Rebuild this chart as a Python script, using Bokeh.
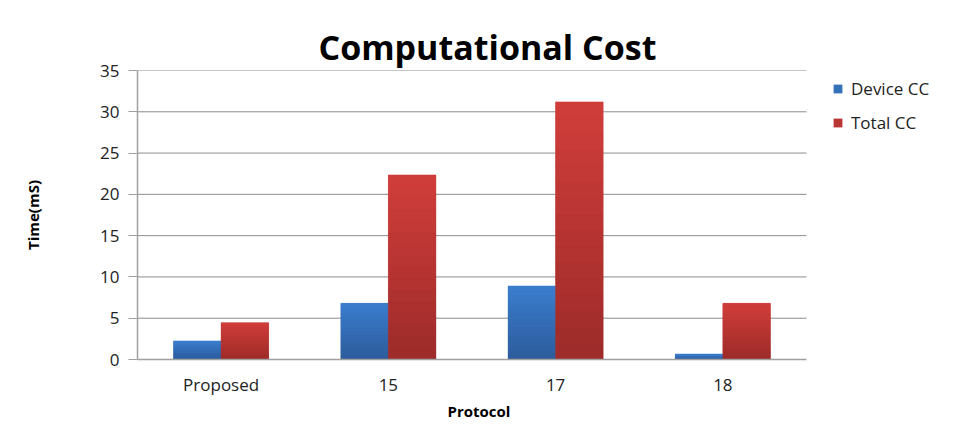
from bokeh.plotting import figure
from bokeh.models import ColumnDataSource, Legend, LegendItem, Range1d, FixedTicker, Title
from bokeh.embed import file_html
from bokeh.resources import INLINE

categories = ["Proposed", "15", "17", "18"]
device_cc = [2.25, 6.8, 8.9, 0.65]
total_cc = [4.45, 22.35, 31.2, 6.8]
y_ticks = [0, 5, 10, 15, 20, 25, 30, 35]
series_names = ["Device CC", "Total CC"]

FONT = "Open Sans"
W, H = 962, 437
FL, FR, FT, FB = 137, 806, 70, 359   # plot area of the bars (canvas px)
FRAME_R = 955                        # frame extended to hold the legend
n = len(categories)
cat_px = (FR - FL) / n
x_end = (FRAME_R - FL) / cat_px

bw = 0.284
centers = [i + 0.5 for i in range(n)]
src = ColumnDataSource(dict(cat=categories, xc=centers,
                            xd=[c - bw / 2 for c in centers],
                            xt=[c + bw / 2 for c in centers],
                            dev=device_cc, tot=total_cc))

p = figure(x_range=Range1d(0, x_end), y_range=Range1d(0, 35),
           width=W, height=H, output_backend="svg", toolbar_location=None,
           min_border_left=FL, min_border_right=W - FRAME_R,
           min_border_top=FT, min_border_bottom=H - FB)
p.outline_line_color = None
p.background_fill_color = "white"
p.border_fill_color = "white"

p.add_layout(Title(text="Computational Cost", text_font=FONT, text_font_style="bold",
                   text_font_size="34px", text_color="#000000", align="left",
                   offset=318 - FL, standoff=2), "above")

# horizontal gridlines limited to the category area
grid_src = ColumnDataSource(dict(y=y_ticks[1:], x0=[0] * (len(y_ticks) - 1),
                                 x1=[n] * (len(y_ticks) - 1)))
p.segment(x0="x0", x1="x1", y0="y", y1="y", source=grid_src,
          line_color="#8c8c8c", line_width=1)

r1 = p.vbar(x="xd", top="dev", width=bw, source=src,
            fill_color="#3571b9", line_color=None)
r2 = p.vbar(x="xt", top="tot", width=bw, source=src,
            fill_color="#b93634", line_color=None)


# vertical shading of each bar (light at the top, dark at the bottom)
def mix(c0, c1, t):
    a = [int(c0[i:i + 2], 16) for i in (1, 3, 5)]
    b = [int(c1[i:i + 2], 16) for i in (1, 3, 5)]
    return "#%02x%02x%02x" % tuple(round(a[k] + (b[k] - a[k]) * t) for k in range(3))


def shade(xcol, vals, c_bottom, c_top, k=16):
    L, R, B, T, C = [], [], [], [], []
    for x, v in zip(src.data[xcol], vals):
        for j in range(k):
            L.append(x - bw / 2)
            R.append(x + bw / 2)
            B.append(v * j / k)
            T.append(v * (j + 1) / k)
            C.append(mix(c_bottom, c_top, (j + 0.5) / k))
    p.quad(left=L, right=R, bottom=B, top=T, fill_color=C, line_color=C, line_width=0.5)


shade("xd", device_cc, "#2d5c9b", "#3b7dce")
shade("xt", total_cc, "#9c2b29", "#d13e3b")

# axes
p.yaxis.ticker = FixedTicker(ticks=y_ticks)
p.xaxis.ticker = FixedTicker(ticks=centers)
p.xaxis.major_label_overrides = {c: lab for c, lab in zip(centers, categories)}
p.xaxis.bounds = (0, n)
p.yaxis.axis_label = "Time(mS)"
for ax in (p.xaxis[0], p.yaxis[0]):
    ax.axis_label_text_font = FONT
    ax.axis_label_text_font_style = "bold"
    ax.axis_label_text_font_size = "15px"
    ax.axis_label_text_color = "#000000"
    ax.major_label_text_font = FONT
    ax.major_label_text_font_size = "17px"
    ax.major_label_text_color = "#222222"
    ax.axis_line_color = "#a0a0a0"
    ax.axis_line_width = 1.5
    ax.minor_tick_line_color = None
p.yaxis.major_tick_out = 9
p.yaxis.major_tick_in = 0
p.yaxis.major_tick_line_color = "#a0a0a0"
p.yaxis.major_label_standoff = 9
p.yaxis.axis_label_standoff = 54
p.xaxis.major_tick_line_color = None
p.xaxis.major_label_standoff = 7

# x axis title, centred under the category area
p.add_layout(Title(text="Protocol", text_font=FONT, text_font_style="bold",
                   text_font_size="15px", text_color="#000000", align="left",
                   offset=481 - FL - 34, standoff=1), "below")

p.xgrid.grid_line_color = None
p.ygrid.grid_line_color = None

legend = Legend(items=[LegendItem(label=series_names[0], renderers=[r1]),
                       LegendItem(label=series_names[1], renderers=[r2])],
                location=(832 - FL, FB - 134), orientation="vertical",
                glyph_width=11, glyph_height=11, label_height=20, spacing=11,
                label_standoff=8, padding=0, margin=0,
                label_text_font=FONT, label_text_font_size="17px", label_text_color="#222222",
                border_line_color=None, background_fill_alpha=0)
p.add_layout(legend)

open("out.html", "w").write(file_html(p, INLINE))
